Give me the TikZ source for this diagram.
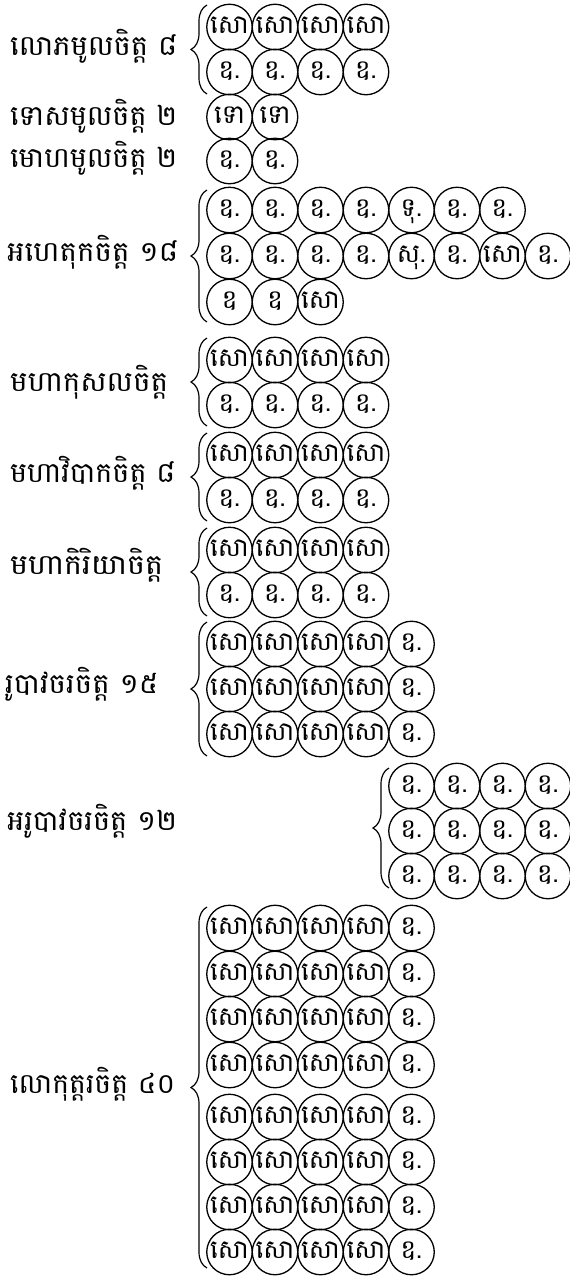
\documentclass[tikz,border=0pt]{standalone}
\usepackage{fontspec}
\usepackage{graphicx}
\newfontfamily\khmer[Script=Khmer]{Battambang}
\usetikzlibrary{decorations.pathreplacing}
\newlength\lblw
\newcommand\fitw[2]{\settowidth\lblw{#2}\pgfmathsetmacro\fitsx{#1/\lblw}\scalebox{\fitsx}[1]{#2}}
\tikzset{
  cc/.style={circle, draw, line width=1.3pt, minimum size=45.5pt, inner sep=0pt, text height=13pt, text depth=0pt, font=\khmer\fontsize{26}{26}\selectfont},
  lbl/.style={anchor=base west, inner sep=0pt, font=\khmer\fontsize{28}{28}\selectfont},
  brc/.style={decorate, decoration={brace, amplitude=16pt}, line width=1.2pt}
}
\newcommand\crow[4]{%
  \foreach \t [count=\i from #3] in {#4} {
    \node[cc] (#1-\i) at ({229.5+45.5*(\i-1)}, #2) {\t};
  }%
}
\newcommand\cbrace[4]{%
  \coordinate (#1t) at (#2, #3);
  \coordinate (#1b) at (#2, #4);
  \draw[brc] (#1b) -- (#1t);
}
\begin{document}
\begin{tikzpicture}[x=1pt, y=-1pt]
\useasboundingbox (0,0) rectangle (570,1277);
% labels
\node[lbl] (l1) at (10, 55) {\fitw{167}{លោភមូលចិត្ត ៨}};
\node[lbl] (l2) at (10, 125) {\fitw{167}{ទោសមូលចិត្ត ២}};
\node[lbl] (l3) at (10, 167) {\fitw{167}{មោហមូលចិត្ត ២}};
\node[lbl] (l4) at (7, 261) {\fitw{171}{អហេតុកចិត្ត ១៨}};
\node[lbl] (l5) at (10, 391) {\fitw{158}{មហាកុសលចិត្ត}};
\node[lbl] (l6) at (10, 482) {\fitw{165}{មហាវិបាកចិត្ត ៨}};
\node[lbl] (l7) at (10, 574) {\fitw{153}{មហាកិរិយាចិត្ត}};
\node[lbl] (l8) at (5, 693) {\fitw{153}{រូបាវចរចិត្ត ១៥}};
\node[lbl] (l9) at (7, 830) {\fitw{170}{អរូបាវចរចិត្ត ១២}};
\node[lbl] (l10) at (10, 1093) {\fitw{165}{លោកុត្តរចិត្ត ៤០}};
% group 1
\crow{a1}{27}{1}{សោ,សោ,សោ,សោ}
\crow{a2}{72}{1}{ឧ.,ឧ.,ឧ.,ឧ.}
\cbrace{ba}{207}{5}{94}
% group 2,3
\crow{b1}{117}{1}{ទោ,ទោ}
\crow{c1}{161}{1}{ឧ.,ឧ.}
% group 4
\crow{d1}{210}{1}{ឧ.,ឧ.,ឧ.,ឧ.,ទុ.,ឧ.,ឧ.}
\crow{d2}{256}{1}{ឧ.,ឧ.,ឧ.,ឧ.,សុ.,ឧ.,សោ,ឧ.}
\crow{d3}{302}{1}{ឧ,ឧ,សោ}
\cbrace{bd}{207}{190}{322}
% group 5
\crow{e1}{360}{1}{សោ,សោ,សោ,សោ}
\crow{e2}{405}{1}{ឧ.,ឧ.,ឧ.,ឧ.}
\cbrace{be}{207}{338}{426}
% group 6
\crow{f1}{455}{1}{សោ,សោ,សោ,សោ}
\crow{f2}{500}{1}{ឧ.,ឧ.,ឧ.,ឧ.}
\cbrace{bf}{207}{433}{521}
% group 7
\crow{g1}{550}{1}{សោ,សោ,សោ,សោ}
\crow{g2}{595}{1}{ឧ.,ឧ.,ឧ.,ឧ.}
\cbrace{bg}{207}{528}{616}
% group 8
\crow{h1}{644}{1}{សោ,សោ,សោ,សោ,ឧ.}
\crow{h2}{689}{1}{សោ,សោ,សោ,សោ,ឧ.}
\crow{h3}{734}{1}{សោ,សោ,សោ,សោ,ឧ.}
\cbrace{bh}{207}{622}{756}
% group 9
\crow{i1}{786}{5}{ឧ.,ឧ.,ឧ.,ឧ.}
\crow{i2}{831}{5}{ឧ.,ឧ.,ឧ.,ឧ.}
\crow{i3}{876}{5}{ឧ.,ឧ.,ឧ.,ឧ.}
\cbrace{bi}{389}{768}{888}
% group 10
\crow{j1}{928}{1}{សោ,សោ,សោ,សោ,ឧ.}
\crow{j2}{974}{1}{សោ,សោ,សោ,សោ,ឧ.}
\crow{j3}{1019}{1}{សោ,សោ,សោ,សោ,ឧ.}
\crow{j4}{1065}{1}{សោ,សោ,សោ,សោ,ឧ.}
\crow{j5}{1117}{1}{សោ,សោ,សោ,សោ,ឧ.}
\crow{j6}{1162}{1}{សោ,សោ,សោ,សោ,ឧ.}
\crow{j7}{1207}{1}{សោ,សោ,សោ,សោ,ឧ.}
\crow{j8}{1252}{1}{សោ,សោ,សោ,សោ,ឧ.}
\cbrace{bj}{207}{907}{1268}
\end{tikzpicture}
\end{document}
